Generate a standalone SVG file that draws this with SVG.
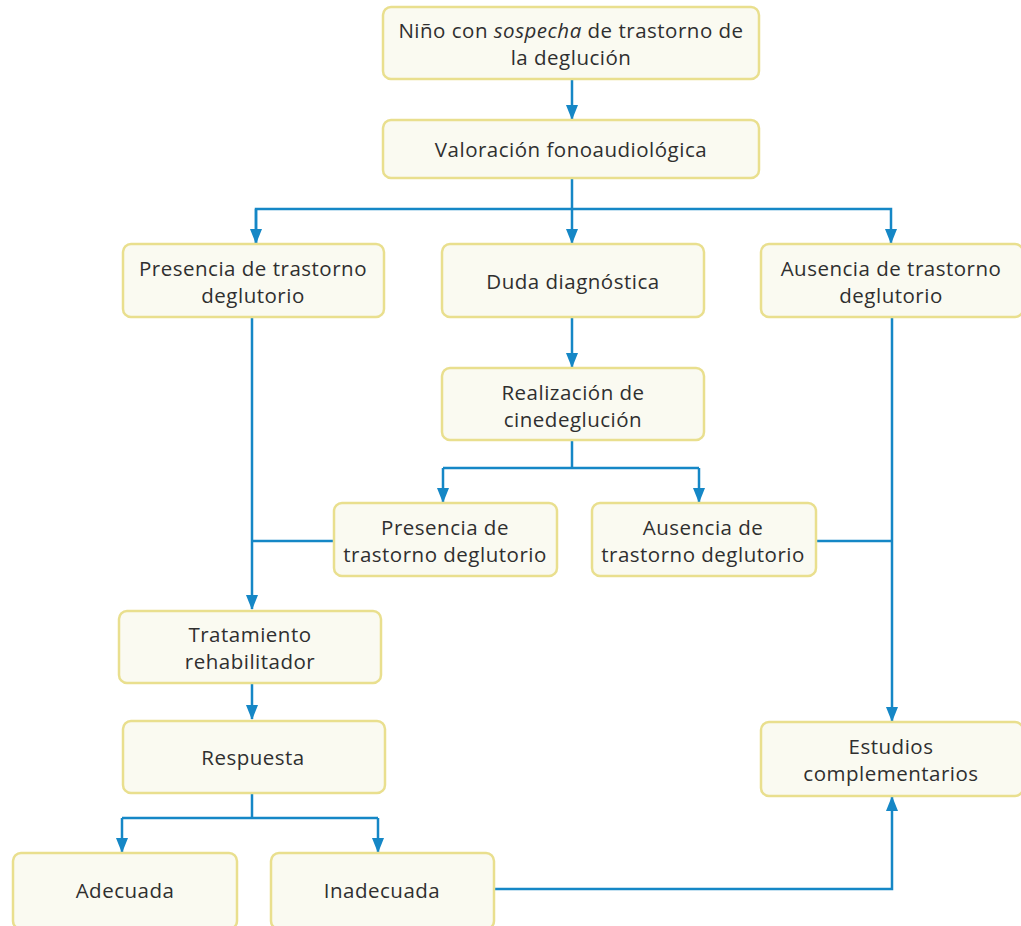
<svg xmlns="http://www.w3.org/2000/svg" width="1021" height="926" viewBox="0 0 1021 926">
<style>
.box{fill:#FAFAF1;stroke:#E9DF8E;stroke-width:2.5}
.t{font-family:"Open Sans","Liberation Sans",sans-serif;font-size:20.5px;letter-spacing:0.5px;fill:#2F2F2F;text-anchor:middle}
.c{fill:none;stroke:#1587C6;stroke-width:2.5}
</style>
<defs>
<marker id="ah" markerWidth="15" markerHeight="12" refX="14" refY="6" orient="auto" markerUnits="userSpaceOnUse" viewBox="0 0 15 12">
<path d="M0,0 L15,6 L0,12 z" fill="#1587C6"/>
</marker>
</defs>
<rect width="1021" height="926" fill="#FFFFFF"/>
<g id="connectors">
<path class="c" d="M572,79 V119" marker-end="url(#ah)"/>
<path class="c" d="M572,178 V243" marker-end="url(#ah)"/>
<path class="c" d="M256,243 V209 H891 V243" marker-end="url(#ah)"/>
<path class="c" d="M256,209 V243" marker-end="url(#ah)"/>
<path class="c" d="M572,317 V367" marker-end="url(#ah)"/>
<path class="c" d="M572,440 V468"/>
<path class="c" d="M443,468 H699"/>
<path class="c" d="M443,468 V502" marker-end="url(#ah)"/>
<path class="c" d="M699,468 V502" marker-end="url(#ah)"/>
<path class="c" d="M252,317 V609" marker-end="url(#ah)"/>
<path class="c" d="M334,541 H252"/>
<path class="c" d="M892,317 V721" marker-end="url(#ah)"/>
<path class="c" d="M816,541 H892"/>
<path class="c" d="M252,683 V719" marker-end="url(#ah)"/>
<path class="c" d="M252,793 V818"/>
<path class="c" d="M122,818 H378"/>
<path class="c" d="M122,818 V852" marker-end="url(#ah)"/>
<path class="c" d="M378,818 V852" marker-end="url(#ah)"/>
<path class="c" d="M494,889 H892 V797" marker-end="url(#ah)"/>
</g>
<g id="n1"><rect class="box" x="383" y="7" width="376" height="72" rx="8"/>
<text class="t" x="571" y="38">Niño con <tspan font-style="italic">sospecha</tspan> de trastorno de</text>
<text class="t" x="571" y="65">la deglución</text></g>
<g id="n2"><rect class="box" x="383" y="120" width="376" height="58" rx="8"/>
<text class="t" x="571" y="157">Valoración fonoaudiológica</text></g>
<g id="n3"><rect class="box" x="123" y="244" width="261" height="73" rx="8"/>
<text class="t" x="253" y="276">Presencia de trastorno</text>
<text class="t" x="253" y="303">deglutorio</text></g>
<g id="n4"><rect class="box" x="442" y="244" width="262" height="73" rx="8"/>
<text class="t" x="573" y="289">Duda diagnóstica</text></g>
<g id="n5"><rect class="box" x="761" y="244" width="262" height="73" rx="8"/>
<text class="t" x="891" y="276">Ausencia de trastorno</text>
<text class="t" x="891" y="303">deglutorio</text></g>
<g id="n6"><rect class="box" x="442" y="368" width="262" height="72" rx="8"/>
<text class="t" x="573" y="400">Realización de</text>
<text class="t" x="573" y="427">cinedeglución</text></g>
<g id="n7"><rect class="box" x="334" y="503" width="223" height="73" rx="8"/>
<text class="t" x="445" y="535">Presencia de</text>
<text class="t" x="445" y="562">trastorno deglutorio</text></g>
<g id="n8"><rect class="box" x="592" y="503" width="224" height="73" rx="8"/>
<text class="t" x="703" y="535">Ausencia de</text>
<text class="t" x="703" y="562">trastorno deglutorio</text></g>
<g id="n9"><rect class="box" x="119" y="611" width="262" height="72" rx="8"/>
<text class="t" x="250" y="642">Tratamiento</text>
<text class="t" x="250" y="669">rehabilitador</text></g>
<g id="n10"><rect class="box" x="123" y="721" width="262" height="72" rx="8"/>
<text class="t" x="253" y="765">Respuesta</text></g>
<g id="n11"><rect class="box" x="761" y="722" width="262" height="74" rx="8"/>
<text class="t" x="891" y="754">Estudios</text>
<text class="t" x="891" y="781">complementarios</text></g>
<g id="n12"><rect class="box" x="13" y="853" width="224" height="76" rx="8"/>
<text class="t" x="125" y="898">Adecuada</text></g>
<g id="n13"><rect class="box" x="271" y="853" width="223" height="76" rx="8"/>
<text class="t" x="382" y="898">Inadecuada</text></g>
</svg>
